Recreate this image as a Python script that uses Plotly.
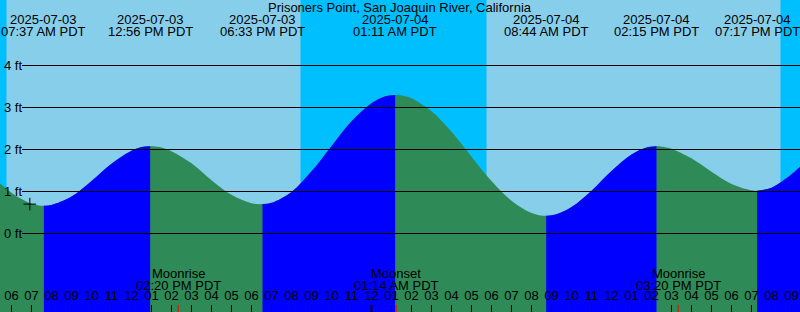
import plotly.graph_objects as go
from datetime import datetime

# ---------------- data ----------------
station = "Prisoners Point, San Joaquin River, California"
x_start = "2025-07-03 05:25:30"
x_end = "2025-07-04 21:25:30"

# tide extremes (PDT, ft)
extreme_times = ["2025-07-03 07:37", "2025-07-03 12:56", "2025-07-03 18:33",
                 "2025-07-04 01:11", "2025-07-04 08:44", "2025-07-04 14:15",
                 "2025-07-04 19:17"]
extreme_heights = [0.66, 2.08, 0.70, 3.30, 0.42, 2.08, 1.02]

# tide curve samples (PDT, ft)
curve_times = [
    "2025-07-03 05:24", "2025-07-03 06:00", "2025-07-03 06:30", "2025-07-03 07:00",
    "2025-07-03 07:37", "2025-07-03 08:00", "2025-07-03 09:00", "2025-07-03 10:00",
    "2025-07-03 11:00", "2025-07-03 12:00", "2025-07-03 12:30", "2025-07-03 12:56",
    "2025-07-03 13:24", "2025-07-03 14:00", "2025-07-03 15:00", "2025-07-03 16:00",
    "2025-07-03 17:00", "2025-07-03 18:00", "2025-07-03 18:33", "2025-07-03 19:00",
    "2025-07-03 20:00", "2025-07-03 21:00", "2025-07-03 22:00", "2025-07-03 23:00",
    "2025-07-04 00:00", "2025-07-04 00:42", "2025-07-04 01:11", "2025-07-04 01:42",
    "2025-07-04 02:00", "2025-07-04 03:00", "2025-07-04 04:00", "2025-07-04 05:00",
    "2025-07-04 06:00", "2025-07-04 07:00", "2025-07-04 08:00", "2025-07-04 08:44",
    "2025-07-04 09:12", "2025-07-04 10:00", "2025-07-04 11:00", "2025-07-04 12:00",
    "2025-07-04 13:00", "2025-07-04 13:45", "2025-07-04 14:15", "2025-07-04 14:45",
    "2025-07-04 15:00", "2025-07-04 16:00", "2025-07-04 17:00", "2025-07-04 18:00",
    "2025-07-04 19:00", "2025-07-04 19:17", "2025-07-04 20:00", "2025-07-04 21:00",
    "2025-07-04 21:27",
]
curve_heights = [
    1.20, 0.97, 0.82, 0.71,
    0.66, 0.68, 0.88, 1.25,
    1.66, 1.97, 2.06, 2.08,
    2.06, 1.96, 1.67, 1.27,
    0.92, 0.72, 0.70, 0.73,
    0.99, 1.48, 2.08, 2.67,
    3.10, 3.27, 3.30, 3.27,
    3.22, 2.91, 2.42, 1.83,
    1.25, 0.78, 0.49, 0.42,
    0.45, 0.63, 1.02, 1.49,
    1.88, 2.05, 2.08, 2.05,
    2.02, 1.79, 1.47, 1.18,
    1.03, 1.02, 1.09, 1.41,
    1.60,
]

# sun: night intervals
night_starts = [x_start, "2025-07-03 20:27", "2025-07-04 20:27"]
night_ends = ["2025-07-03 05:45", "2025-07-04 05:45", x_end]

# moon events
moon_names = ["Moonrise", "Moonset", "Moonrise"]
moon_times = ["2025-07-03 14:20", "2025-07-04 01:14", "2025-07-04 15:20"]

grid_levels = [0, 1, 2, 3, 4]
grid_labels = ["0 ft", "1 ft", "2 ft", "3 ft", "4 ft"]

marker_time = ["2025-07-03 06:55"]
marker_height = [0.70]

# ---------------- styling ----------------
W, H = 800, 312
PX_PER_FT = 42.0
ZERO_PX = 233.5
YMAX = ZERO_PX / PX_PER_FT
YMIN = YMAX - H / PX_PER_FT
DAY = "#87CEEB"
NIGHT = "#00BFFF"
RISE = "#0000FF"
FALL = "#2E8B57"
FONT = "Liberation Sans"
FS = 13


def py(px):
    return 1 - px / H


def fmt_date(s):
    return datetime.strptime(s, "%Y-%m-%d %H:%M").strftime("%Y-%m-%d")


def fmt_time(s):
    return datetime.strptime(s, "%Y-%m-%d %H:%M").strftime("%I:%M %p PDT")


fig = go.Figure()

# whole curve filled with the falling colour first
fig.add_trace(go.Scatter(x=[curve_times[0], curve_times[-1]], y=[YMIN, YMIN], mode="lines",
                         line=dict(width=0), hoverinfo="skip"))
fig.add_trace(go.Scatter(x=curve_times, y=curve_heights, mode="lines",
                         line=dict(width=0, shape="spline", smoothing=1),
                         fill="tonexty", fillcolor=FALL, hoverinfo="skip"))

# split curve into rising / falling segments at extremes; rising ones on top
segments = []
cur_x, cur_y = [], []
for t, h in zip(curve_times, curve_heights):
    cur_x.append(t)
    cur_y.append(h)
    if t in extreme_times:
        segments.append((cur_x, cur_y))
        cur_x, cur_y = [t], [h]
if len(cur_x) > 1:
    segments.append((cur_x, cur_y))

for xs, ys in segments:
    if ys[-1] <= ys[0]:
        continue
    fig.add_trace(go.Scatter(x=[xs[0], xs[-1]], y=[YMIN, YMIN], mode="lines",
                             line=dict(width=0), hoverinfo="skip"))
    fig.add_trace(go.Scatter(x=xs, y=ys, mode="lines",
                             line=dict(width=0, shape="spline", smoothing=1),
                             fill="tonexty", fillcolor=RISE, hoverinfo="skip"))

fig.add_trace(go.Scatter(x=marker_time, y=marker_height, mode="markers",
                         marker=dict(symbol="cross-thin", size=9,
                                     line=dict(width=1, color="black"))))

shapes = []
for a, b in zip(night_starts, night_ends):
    shapes.append(dict(type="rect", xref="x", yref="paper", x0=a, x1=b, y0=0, y1=1,
                       fillcolor=NIGHT, line=dict(width=0), layer="below"))
for lv in grid_levels:
    shapes.append(dict(type="line", xref="paper", yref="y", x0=22 / W, x1=1, y0=lv, y1=lv,
                       line=dict(color="black", width=1), layer="above"))
for mt in moon_times:
    shapes.append(dict(type="line", xref="x", yref="paper", x0=mt, x1=mt, y0=0, y1=7 / H,
                       line=dict(color="red", width=1), layer="above"))
shapes.append(dict(type="line", xref="x", yref="paper", x0="2025-07-04 00:00",
                   x1="2025-07-04 00:00", y0=0, y1=7 / H,
                   line=dict(color="black", width=2), layer="above"))

ann = []
txt = dict(family=FONT, size=FS, color="black")
ann.append(dict(text=station, xref="paper", yref="paper", x=0.5, y=py(7),
                xanchor="center", yanchor="middle", showarrow=False, font=txt))
for t in extreme_times:
    ann.append(dict(text=fmt_date(t), xref="x", yref="paper", x=t, y=py(19.5),
                    xanchor="center", yanchor="middle", showarrow=False, font=txt))
    ann.append(dict(text=fmt_time(t), xref="x", yref="paper", x=t, y=py(31.5),
                    xanchor="center", yanchor="middle", showarrow=False, font=txt))
for name, t in zip(moon_names, moon_times):
    ann.append(dict(text=name, xref="x", yref="paper", x=t, y=py(273.5),
                    xanchor="center", yanchor="middle", showarrow=False, font=txt))
    ann.append(dict(text=fmt_time(t), xref="x", yref="paper", x=t, y=py(285.5),
                    xanchor="center", yanchor="middle", showarrow=False, font=txt))
for lv, lab in zip(grid_levels, grid_labels):
    ann.append(dict(text=lab, xref="paper", yref="y", x=2 / W, y=lv,
                    xanchor="left", yanchor="middle", showarrow=False, font=txt))

fig.update_layout(
    template="none",
    width=W, height=H,
    margin=dict(l=0, r=0, t=0, b=0, pad=0),
    paper_bgcolor=DAY, plot_bgcolor=DAY,
    showlegend=False,
    shapes=shapes, annotations=ann,
    xaxis=dict(type="date", range=[x_start, x_end], showgrid=False, zeroline=False,
               showline=False, ticks="inside", ticklen=7, tickwidth=1, tickcolor="black",
               tick0="2025-07-03 00:00", dtick=3600000, tickformat="%I",
               ticklabelposition="inside", ticklabelstandoff=2,
               tickfont=dict(family=FONT, size=FS, color="black"),
               automargin=False, fixedrange=True),
    yaxis=dict(range=[YMIN, YMAX], visible=False, automargin=False, fixedrange=True),
)

fig.write_html("out.html", config=dict(displayModeBar=False))
